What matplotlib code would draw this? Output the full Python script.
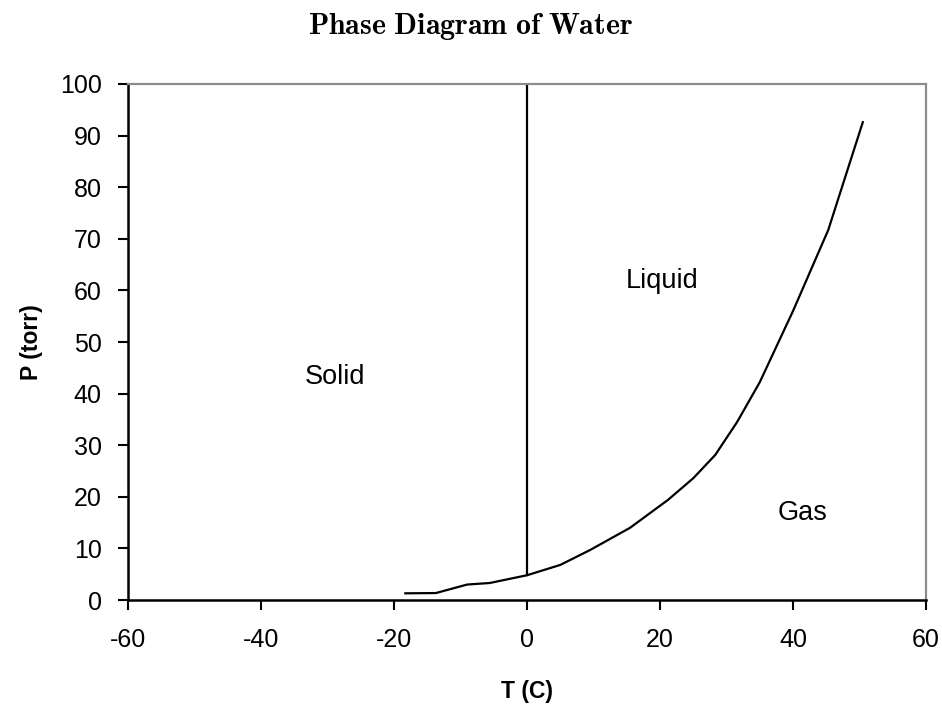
import matplotlib

matplotlib.use("Agg")
import matplotlib.pyplot as plt

# vapour pressure of water / ice (torr) against temperature (C)
TEMP_C = [-18.3, -13.7, -9.0, -5.6, 0.0, 5.0, 9.5, 15.5, 21.2, 25.0, 28.3, 31.6, 35.0, 40.0, 45.3, 50.5]
PRESS_TORR = [1.3, 1.35, 3.0, 3.3, 4.8, 6.8, 9.7, 14.0, 19.4, 23.6, 28.1, 34.5, 42.2, 56.0, 71.7, 92.6]

# solid/liquid boundary drawn as a vertical line at 0 C
MELT_T = [0.0, 0.0]
MELT_P = [4.8, 100.0]

REGIONS = ["Solid", "Liquid", "Gas"]
REGION_T = [-28.9, 20.3, 41.4]
REGION_P = [43.2, 61.8, 16.9]

X_TICKS = [-60, -40, -20, 0, 20, 40, 60]
Y_TICKS = list(range(0, 101, 10))


def main() -> None:
    plt.rcParams.update(
        {
            "font.family": ["Liberation Sans", "DejaVu Sans"],
            "mathtext.fontset": "cm",
            "axes.unicode_minus": False,
        }
    )
    fig = plt.figure(figsize=(9.42, 7.10), dpi=100, facecolor="white")
    ax = fig.add_axes([0.1359, 0.1549, 0.8471, 0.7268])

    ax.plot(TEMP_C, PRESS_TORR, color="black", lw=1.6)
    ax.plot(MELT_T, MELT_P, color="black", lw=1.6)

    for name, t, p in zip(REGIONS, REGION_T, REGION_P):
        ax.text(t, p, name, ha="center", va="center", fontsize=19.5)

    ax.set_xlim(-60, 60)
    ax.set_ylim(0, 100)
    ax.set_xticks(X_TICKS)
    ax.set_yticks(Y_TICKS)
    ax.tick_params(direction="out", length=7, width=1.5, labelsize=18, color="black")
    ax.tick_params(axis="x", pad=13)
    ax.tick_params(axis="y", pad=12)

    for side in ("left", "bottom"):
        ax.spines[side].set_color("black")
        ax.spines[side].set_linewidth(1.8)
    for side in ("top", "right"):
        ax.spines[side].set_color("#8c8c8c")
        ax.spines[side].set_linewidth(1.6)

    ax.set_xlabel("T (C)", fontsize=16.5, fontweight="bold", labelpad=20)
    ax.set_ylabel("P (torr)", fontsize=16.5, fontweight="bold", labelpad=12)

    fig.text(0.499, 0.962, r"$\mathbf{Phase\ Diagram\ of\ Water}$", ha="center", va="center", fontsize=21.5)

    fig.savefig("out.png", dpi=100, facecolor="white")
    plt.close(fig)


if __name__ == "__main__":
    main()
